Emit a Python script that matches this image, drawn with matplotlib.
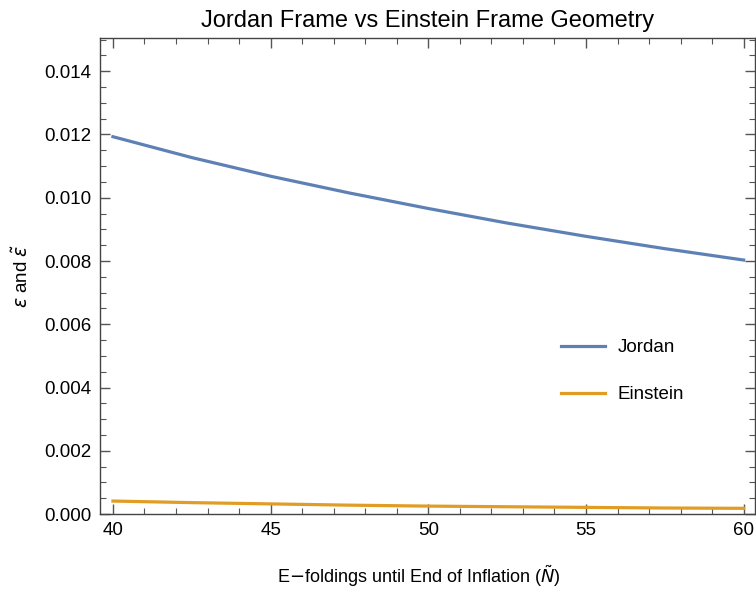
import numpy as np
import matplotlib.pyplot as plt
from matplotlib.ticker import MultipleLocator, FormatStrFormatter

# e-foldings
n_vals = [40, 42.5, 45, 47.5, 50, 52.5, 55, 57.5, 60]
# Jordan frame epsilon
eps_jordan = [0.01193, 0.01127, 0.01068, 0.01015, 0.00966, 0.00920, 0.00878, 0.00839, 0.00803]
# Einstein frame epsilon tilde
eps_einstein = [0.00041, 0.00036, 0.00032, 0.00028, 0.00025, 0.00023, 0.00021, 0.00019, 0.00018]

plt.rcParams['font.family'] = ['Liberation Sans', 'DejaVu Sans']
plt.rcParams['mathtext.fontset'] = 'dejavusans'

fig = plt.figure(figsize=(7.56, 5.97), dpi=100)
ax = fig.add_axes([0.1323, 0.139, 0.866, 0.7973])

ax.plot(n_vals, eps_jordan, color='#5E81B5', linewidth=2.3, label='Jordan')
ax.plot(n_vals, eps_einstein, color='#E19C24', linewidth=2.3, label='Einstein')

ax.set_xlim(39.59, 60.35)
ax.set_ylim(0, 0.01505)

ax.xaxis.set_major_locator(MultipleLocator(5))
ax.xaxis.set_minor_locator(MultipleLocator(1))
ax.yaxis.set_major_locator(MultipleLocator(0.002))
ax.yaxis.set_minor_locator(MultipleLocator(0.0005))
ax.yaxis.set_major_formatter(FormatStrFormatter('%.3f'))

ax.tick_params(which='both', direction='in', top=True, right=True, color='#555555')
ax.tick_params(which='major', length=7, width=1.0, labelsize=13.5, pad=6)
ax.tick_params(which='minor', length=4, width=0.8)
for s in ax.spines.values():
    s.set_color('#444444')
    s.set_linewidth(1.0)

ax.set_title('Jordan Frame vs Einstein Frame Geometry', fontsize=17, pad=8)
ax.set_xlabel(r'E$-$foldings until End of Inflation ($\tilde{N}$)', fontsize=13)
ax.xaxis.set_label_coords(0.487, -0.103)
ax.set_ylabel(r'$\epsilon$ and $\tilde{\epsilon}$', fontsize=13.5, labelpad=9)

ax.legend(loc='center left', bbox_to_anchor=(0.679, 0.30), frameon=False, fontsize=13.5,
          handlelength=2.3, handletextpad=0.7, labelspacing=1.6)

fig.savefig('out.png', dpi=100)
